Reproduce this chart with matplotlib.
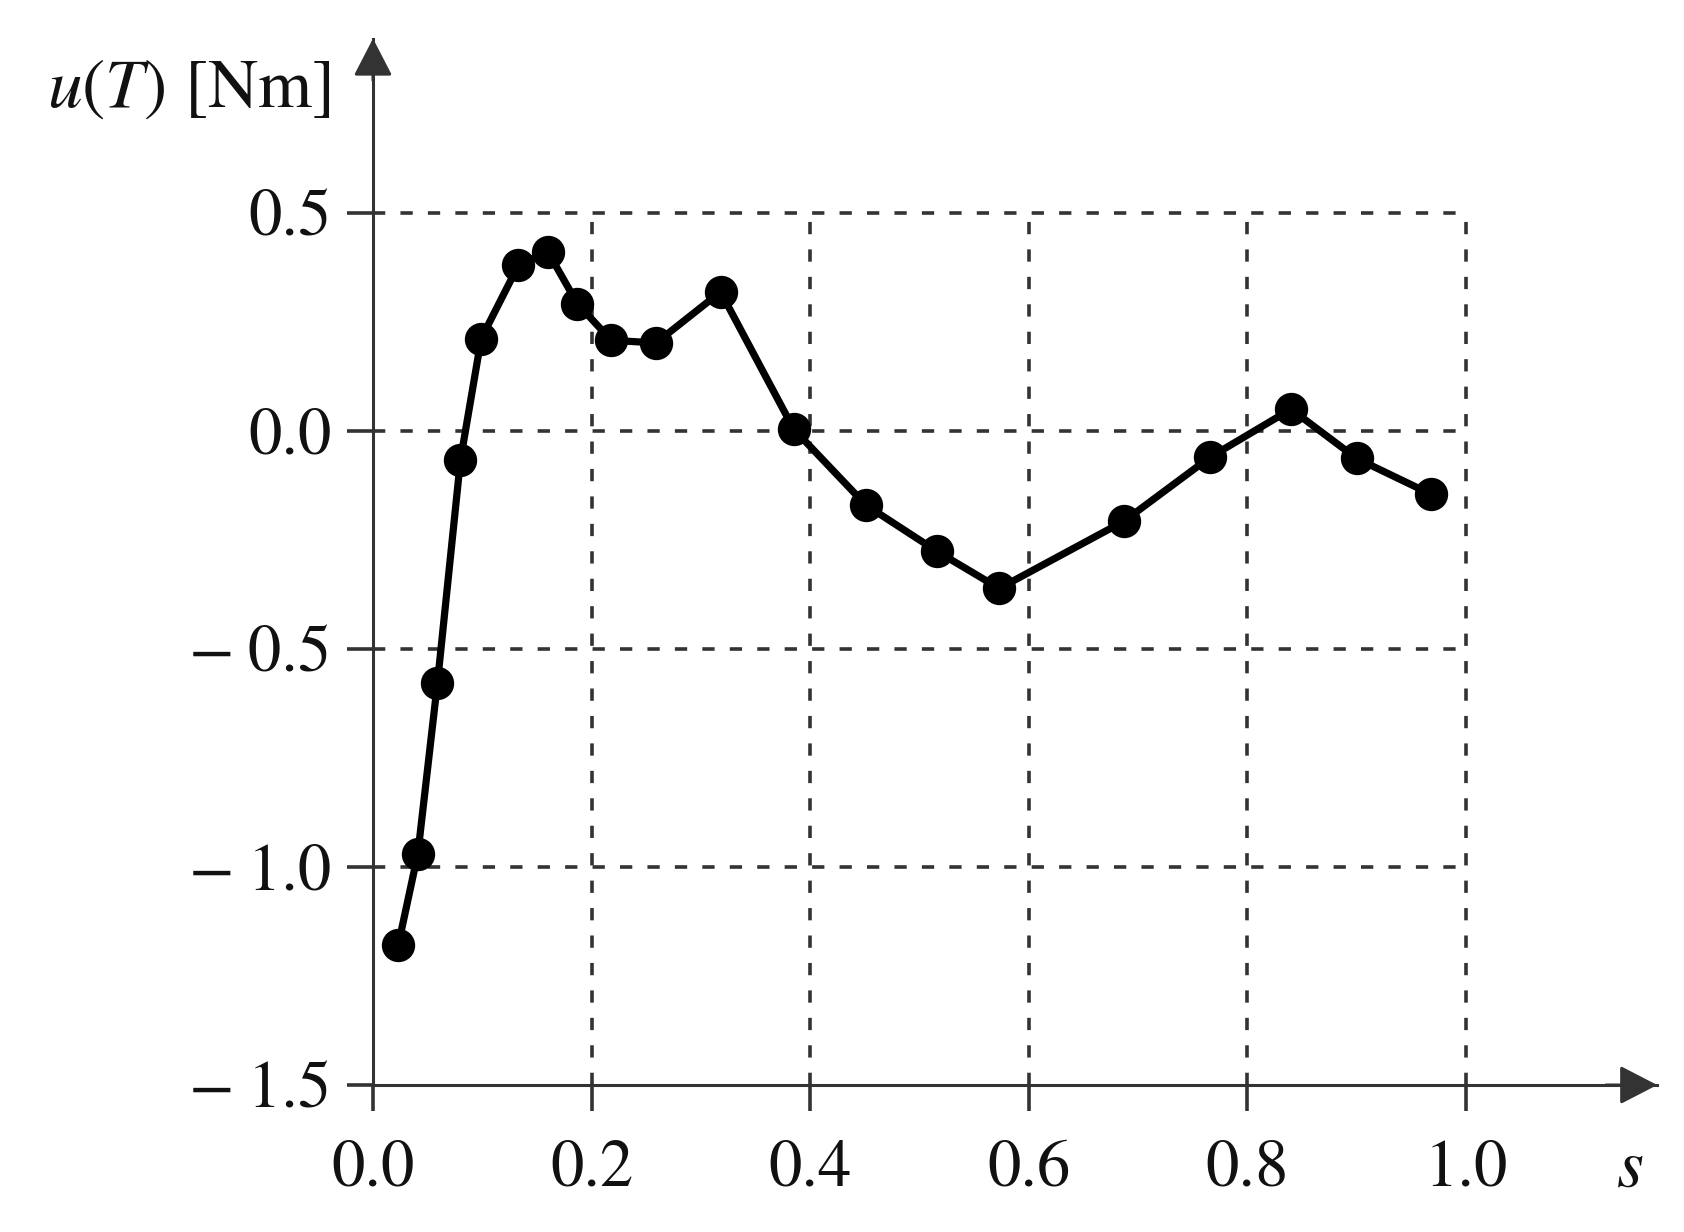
import matplotlib.pyplot as plt
import numpy as np

plt.rcParams['font.family'] = ['STIXGeneral', 'DejaVu Serif']
plt.rcParams['mathtext.fontset'] = 'stix'

# values
s = [0.023, 0.041, 0.059, 0.080, 0.099, 0.133, 0.160, 0.187, 0.218, 0.259,
     0.318, 0.385, 0.451, 0.516, 0.573, 0.687, 0.766, 0.840, 0.900, 0.968]
u = [-1.18, -0.97, -0.577, -0.067, 0.212, 0.380, 0.411, 0.292, 0.208, 0.202,
     0.319, 0.004, -0.170, -0.276, -0.361, -0.207, -0.060, 0.050, -0.063, -0.145]

xticks = [0.0, 0.2, 0.4, 0.6, 0.8, 1.0]
xticklabels = ['0.0', '0.2', '0.4', '0.6', '0.8', '1.0']
yticks = [0.5, 0.0, -0.5, -1.0, -1.5]
yticklabels = ['0.5', '0.0', '\u2212\u20090.5', '\u2212\u20091.0', '\u2212\u20091.5']

axis_col = '#333333'
grid_col = '#333333'

fig = plt.figure(figsize=(8.42, 6.16), dpi=200)
ax = fig.add_axes([0.2215, 0.1193, 0.7626, 0.8494])
ax.set_xlim(0, 1.175)
ax.set_ylim(-1.5, 0.9)

# dashed grid box only over [0, 1] x [-1.5, 0.5]
ax.hlines(yticks[:-1], 0, 1.0, colors=grid_col, lw=1.3, linestyles=(0, (3.4, 4.2)), zorder=1)
ax.vlines(xticks[1:], -1.5, 0.5, colors=grid_col, lw=1.3, linestyles=(0, (3.4, 4.2)), zorder=1)

ax.plot(s, u, '-o', color='black', lw=2.6, ms=11, zorder=3)

for side in ['top', 'right']:
    ax.spines[side].set_visible(False)
for side in ['left', 'bottom']:
    ax.spines[side].set_color(axis_col)
    ax.spines[side].set_linewidth(1.1)

arrow = dict(arrowstyle='-|>,head_length=0.58,head_width=0.3', color=axis_col,
             lw=1.1, shrinkA=0, shrinkB=0, mutation_scale=20)
ax.annotate('', xy=(1, 0), xytext=(0.96, 0), xycoords='axes fraction', arrowprops=arrow)
ax.annotate('', xy=(0, 1), xytext=(0, 0.96), xycoords='axes fraction', arrowprops=arrow)

ax.set_xticks(xticks)
ax.set_xticklabels(xticklabels)
ax.set_yticks(yticks)
ax.set_yticklabels(yticklabels)
ax.tick_params(axis='both', direction='out', length=9.5, width=1.3, color=axis_col,
               labelsize=24, labelcolor='#111111')
ax.tick_params(axis='x', pad=10)
ax.tick_params(axis='y', pad=5.5)

fig.text(0.196, 0.927, r'$u(T)$ [Nm]', ha='right', va='center', fontsize=25, color='#111111')
fig.text(0.968, 0.05, r'$s$', ha='center', va='center', fontsize=25, color='#111111')

fig.savefig('out.png', dpi=200)
